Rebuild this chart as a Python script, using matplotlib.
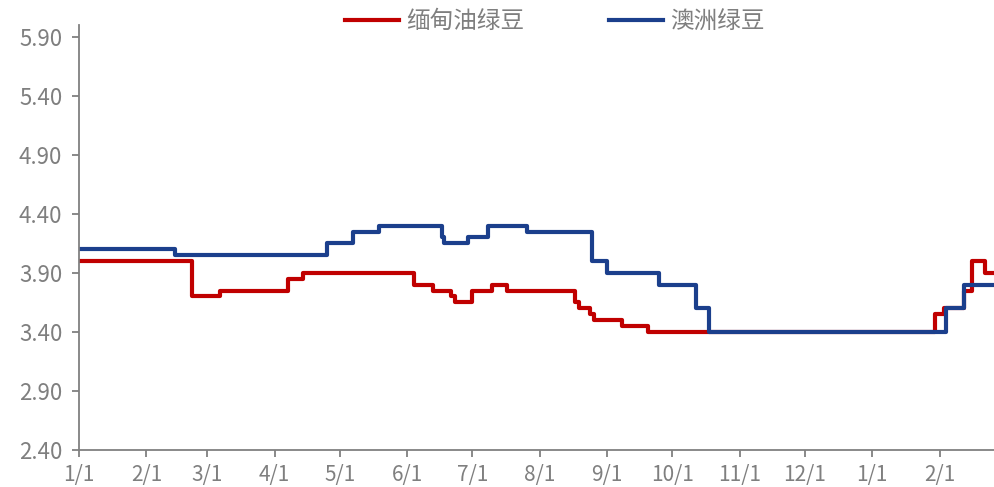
import pandas as pd
import matplotlib
matplotlib.use("Agg")
from matplotlib import pyplot as plt

plt.rcParams['font.family'] = ['Noto Sans CJK SC', 'DejaVu Sans']

# price change points (date, value); each value holds until the next date
red_dates = ['2022-01-01', '2022-02-22', '2022-03-07', '2022-04-07', '2022-04-14',
             '2022-06-04', '2022-06-13', '2022-06-21', '2022-06-23', '2022-07-01',
             '2022-07-10', '2022-07-17', '2022-08-17', '2022-08-19', '2022-08-24',
             '2022-08-26', '2022-09-08', '2022-09-20', '2023-01-30', '2023-02-03',
             '2023-02-12', '2023-02-16', '2023-02-22', '2023-02-26']
red_vals = [4.00, 3.70, 3.75, 3.85, 3.90,
            3.80, 3.75, 3.70, 3.65, 3.75,
            3.80, 3.75, 3.65, 3.60, 3.55,
            3.50, 3.45, 3.40, 3.55, 3.60,
            3.75, 4.00, 3.90, 3.90]

blue_dates = ['2022-01-01', '2022-02-14', '2022-04-25', '2022-05-07', '2022-05-19',
              '2022-06-17', '2022-06-18', '2022-06-29', '2022-07-08', '2022-07-26',
              '2022-08-25', '2022-09-01', '2022-09-25', '2022-10-12', '2022-10-18',
              '2023-02-04', '2023-02-12', '2023-02-26']
blue_vals = [4.10, 4.05, 4.15, 4.25, 4.30,
             4.20, 4.15, 4.20, 4.30, 4.25,
             4.00, 3.90, 3.80, 3.60, 3.40,
             3.60, 3.80, 3.80]

yticks = [2.40, 2.90, 3.40, 3.90, 4.40, 4.90, 5.40, 5.90]
month_ticks = pd.date_range('2022-01-01', '2023-02-01', freq='MS')

gray = '#808080'

fig = plt.figure(figsize=(9.94, 4.87), dpi=100)
ax = fig.add_axes([0.0795, 0.076, 0.9205, 0.873])

ax.plot(pd.to_datetime(red_dates), red_vals, color='#C00000', lw=3,
        drawstyle='steps-post', label='缅甸油绿豆')
ax.plot(pd.to_datetime(blue_dates), blue_vals, color='#1B3F8C', lw=3,
        drawstyle='steps-post', label='澳洲绿豆')

ax.set_ylim(2.40, 6.00)
ax.set_yticks(yticks)
ax.set_yticklabels(['%.2f' % v for v in yticks])
ax.set_xlim(pd.Timestamp('2022-01-01'), pd.Timestamp('2023-02-26'))
ax.set_xticks(month_ticks)
ax.set_xticklabels(['%d/1' % d.month for d in month_ticks])

for s in ['top', 'right']:
    ax.spines[s].set_visible(False)
for s in ['left', 'bottom']:
    ax.spines[s].set_color(gray)
    ax.spines[s].set_linewidth(1.3)
ax.tick_params(axis='both', colors=gray, labelcolor='#7f7f7f', width=1.3, length=5)
ax.tick_params(axis='y', labelsize=16, pad=7)
ax.tick_params(axis='x', labelsize=15, pad=5)

leg = ax.legend(loc='upper center', bbox_to_anchor=(0.52, 1.085), ncol=2, frameon=False,
                fontsize=17, handlelength=2.3, handletextpad=0.3, columnspacing=3.6)
for t in leg.get_texts():
    t.set_color('#7f7f7f')

plt.savefig('out.png', dpi=100)
